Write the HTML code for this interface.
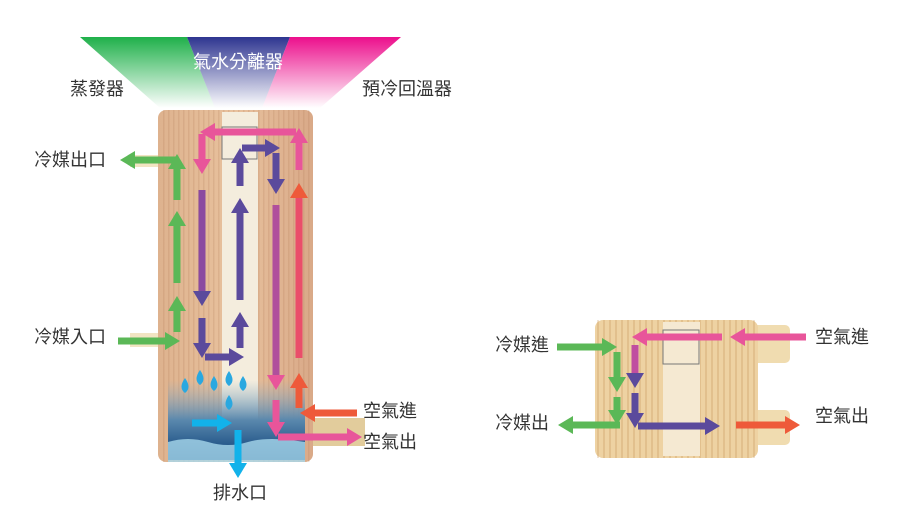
<!DOCTYPE html>
<html><head><meta charset="utf-8"><style>
html,body{margin:0;padding:0;background:#fff;}
svg{display:block}
text{font-family:"Liberation Sans","Noto Sans CJK TC",sans-serif;fill:#333;font-size:18px}
</style></head><body>
<svg width="902" height="508" viewBox="0 0 902 508" xmlns="http://www.w3.org/2000/svg">
<defs>
<linearGradient id="gG" x1="0" y1="0" x2="0" y2="1"><stop offset="0" stop-color="#1fb04a"/><stop offset="1" stop-color="#1fb04a" stop-opacity="0"/></linearGradient>
<linearGradient id="gP" x1="0" y1="0" x2="0" y2="1"><stop offset="0" stop-color="#2e3590"/><stop offset="1" stop-color="#2e3590" stop-opacity="0"/></linearGradient>
<linearGradient id="gK" x1="0" y1="0" x2="0" y2="1"><stop offset="0" stop-color="#ec0f8c"/><stop offset="1" stop-color="#ec0f8c" stop-opacity="0"/></linearGradient>
<linearGradient id="cop" x1="0" y1="0" x2="1" y2="0"><stop offset="0" stop-color="#deb28e"/><stop offset="0.5" stop-color="#e8c29e"/><stop offset="1" stop-color="#d9a988"/></linearGradient>
<linearGradient id="water" x1="0" y1="0" x2="0" y2="1"><stop offset="0" stop-color="#8fb0c8" stop-opacity="0"/><stop offset="0.5" stop-color="#5a88ad"/><stop offset="1" stop-color="#0a3f78"/></linearGradient>
<pattern id="ribs" width="5" height="10" patternUnits="userSpaceOnUse"><rect x="3" width="1.5" height="10" fill="#b07a55" opacity="0.2"/></pattern>
<pattern id="ribsH" width="6" height="10" patternUnits="userSpaceOnUse"><rect x="3" width="2" height="10" fill="#c08a50" opacity="0.25"/></pattern>
<marker id="mG" markerUnits="userSpaceOnUse" markerWidth="15" markerHeight="18" refX="1" refY="9" orient="auto"><path d="M0,0 L15,9 L0,18z" fill="#5bb857"/></marker>
<marker id="mK" markerUnits="userSpaceOnUse" markerWidth="15" markerHeight="18" refX="1" refY="9" orient="auto"><path d="M0,0 L15,9 L0,18z" fill="#e8559a"/></marker>
<marker id="mP" markerUnits="userSpaceOnUse" markerWidth="15" markerHeight="18" refX="1" refY="9" orient="auto"><path d="M0,0 L15,9 L0,18z" fill="#5b4a9c"/></marker>
<marker id="mR" markerUnits="userSpaceOnUse" markerWidth="15" markerHeight="18" refX="1" refY="9" orient="auto"><path d="M0,0 L15,9 L0,18z" fill="#ee5a3a"/></marker>
<marker id="mC" markerUnits="userSpaceOnUse" markerWidth="15" markerHeight="18" refX="1" refY="9" orient="auto"><path d="M0,0 L15,9 L0,18z" fill="#12b2ea"/></marker>
</defs>

<!-- funnel -->
<polygon points="80,37 187,37 215,108 160,108" fill="url(#gG)"/>
<polygon points="187,37 290,37 262,108 215,108" fill="url(#gP)"/>
<polygon points="290,37 401,37 320,108 262,108" fill="url(#gK)"/>

<!-- left device -->
<rect x="130" y="155" width="40" height="12" fill="#ecd9a8" opacity="0.7"/>
<rect x="130" y="333" width="40" height="14" fill="#ecd9a8" opacity="0.7"/>
<rect x="305" y="418" width="60" height="28" fill="#e2cc9c"/>
<rect x="158" y="110" width="155" height="352" rx="8" fill="url(#cop)"/>
<rect x="162" y="110" width="150" height="352" fill="url(#ribs)"/>
<rect x="222" y="112" width="36" height="345" fill="#f4eddd"/>
<rect x="168" y="380" width="137" height="80" fill="url(#water)"/>
<path d="M168,442 q20,-6 40,0 t40,0 t57,0 V462 H168z" fill="#a8d8ec" opacity="0.8"/>
<rect x="222" y="127" width="35" height="32" fill="none" stroke="#777" stroke-width="1"/>

<g stroke-width="7" fill="none">
<line x1="177" y1="200" x2="177" y2="168" stroke="#5bb857" marker-end="url(#mG)"/>
<line x1="177" y1="283" x2="177" y2="225" stroke="#5bb857" marker-end="url(#mG)"/>
<line x1="177" y1="332" x2="177" y2="310" stroke="#5bb857" marker-end="url(#mG)"/>
<line x1="177" y1="160" x2="134" y2="160" stroke="#5bb857" marker-end="url(#mG)"/>
<line x1="118" y1="341" x2="166" y2="341" stroke="#5bb857" marker-end="url(#mG)"/>
<line x1="296" y1="132" x2="214" y2="132" stroke="#e8559a" marker-end="url(#mK)"/>
<line x1="202" y1="134" x2="202" y2="160" stroke="#e8559a" marker-end="url(#mK)"/>
<line x1="299" y1="170" x2="299" y2="142" stroke="#e8559a" marker-end="url(#mK)"/>
<line x1="240" y1="186" x2="240" y2="162" stroke="#5b4a9c" marker-end="url(#mP)"/>
<line x1="240" y1="300" x2="240" y2="212" stroke="#5b4a9c" marker-end="url(#mP)"/>
<line x1="240" y1="348" x2="240" y2="326" stroke="#5b4a9c" marker-end="url(#mP)"/>
<line x1="242" y1="148" x2="266" y2="148" stroke="#5b4a9c" marker-end="url(#mP)"/>
<line x1="276" y1="153" x2="276" y2="180" stroke="#5b4a9c" marker-end="url(#mP)"/>
<line x1="202" y1="190" x2="202" y2="292" stroke="#8a4aa0" marker-end="url(#mP)"/>
<line x1="202" y1="318" x2="202" y2="344" stroke="#5b4a9c" marker-end="url(#mP)"/>
<line x1="205" y1="357" x2="230" y2="357" stroke="#5b4a9c" marker-end="url(#mP)"/>
<line x1="276" y1="205" x2="276" y2="376" stroke="#b04f9c" marker-end="url(#mK)"/>
<line x1="276" y1="400" x2="276" y2="423" stroke="#e8559a" marker-end="url(#mK)"/>
<line x1="278" y1="437" x2="348" y2="437" stroke="#e8559a" marker-end="url(#mK)"/>
<line x1="299" y1="358" x2="299" y2="197" stroke="#ea4e6a" marker-end="url(#mR)"/>
<line x1="299" y1="408" x2="299" y2="387" stroke="#ee5a3a" marker-end="url(#mR)"/>
<line x1="357" y1="413" x2="314" y2="413" stroke="#ee5a3a" marker-end="url(#mR)"/>
<line x1="192" y1="423" x2="218" y2="423" stroke="#12b2ea" marker-end="url(#mC)"/>
<line x1="238" y1="430" x2="238" y2="464" stroke="#12b2ea" marker-end="url(#mC)"/>
</g>
<g fill="#2aa8e0">
<path d="M200,370 q-7,10 0,15 q7,-5 0,-15z"/>
<path d="M214,376 q-7,10 0,15 q7,-5 0,-15z"/>
<path d="M229,371 q-7,10 0,15 q7,-5 0,-15z"/>
<path d="M243,376 q-7,10 0,15 q7,-5 0,-15z"/>
<path d="M185,378 q-7,10 0,15 q7,-5 0,-15z"/>
<path d="M229,395 q-7,10 0,15 q7,-5 0,-15z"/>
</g>

<!-- right device -->
<rect x="740" y="325" width="50" height="38" rx="5" fill="#f0dcb0"/>
<rect x="740" y="410" width="50" height="35" rx="5" fill="#f0dcb0"/>
<rect x="595" y="320" width="163" height="138" rx="8" fill="#eed2a2"/>
<rect x="597" y="320" width="160" height="138" fill="url(#ribsH)"/>
<rect x="663" y="322" width="37" height="134" fill="#f5e9d2"/>
<rect x="663" y="330" width="36" height="34" fill="none" stroke="#777" stroke-width="1"/>
<g stroke-width="7" fill="none">
<line x1="557" y1="347" x2="603" y2="347" stroke="#5bb857" marker-end="url(#mG)"/>
<line x1="617" y1="352" x2="617" y2="378" stroke="#5bb857" marker-end="url(#mG)"/>
<line x1="617" y1="397" x2="617" y2="411" stroke="#5bb857" marker-end="url(#mG)"/>
<line x1="620" y1="425" x2="572" y2="425" stroke="#5bb857" marker-end="url(#mG)"/>
<line x1="722" y1="337" x2="646" y2="337" stroke="#e8559a" marker-end="url(#mK)"/>
<line x1="806" y1="337" x2="744" y2="337" stroke="#e8559a" marker-end="url(#mK)"/>
<line x1="635" y1="345" x2="635" y2="374" stroke="#c04ea0" marker-end="url(#mP)"/>
<line x1="635" y1="393" x2="635" y2="414" stroke="#5b4a9c" marker-end="url(#mP)"/>
<line x1="638" y1="426" x2="706" y2="426" stroke="#5b4a9c" marker-end="url(#mP)"/>
<line x1="736" y1="425" x2="786" y2="425" stroke="#ee5a3a" marker-end="url(#mR)"/>
</g>

<!-- labels -->
<text x="193" y="68" style="fill:#fff">氣水分離器</text>
<text x="70" y="95">蒸發器</text>
<text x="362" y="95">預冷回溫器</text>
<text x="34" y="166">冷媒出口</text>
<text x="34" y="343">冷媒入口</text>
<text x="363" y="417">空氣進</text>
<text x="363" y="448">空氣出</text>
<text x="213" y="499">排水口</text>
<text x="495" y="351">冷媒進</text>
<text x="495" y="429">冷媒出</text>
<text x="815" y="343">空氣進</text>
<text x="815" y="422">空氣出</text>
</svg>
</body></html>
